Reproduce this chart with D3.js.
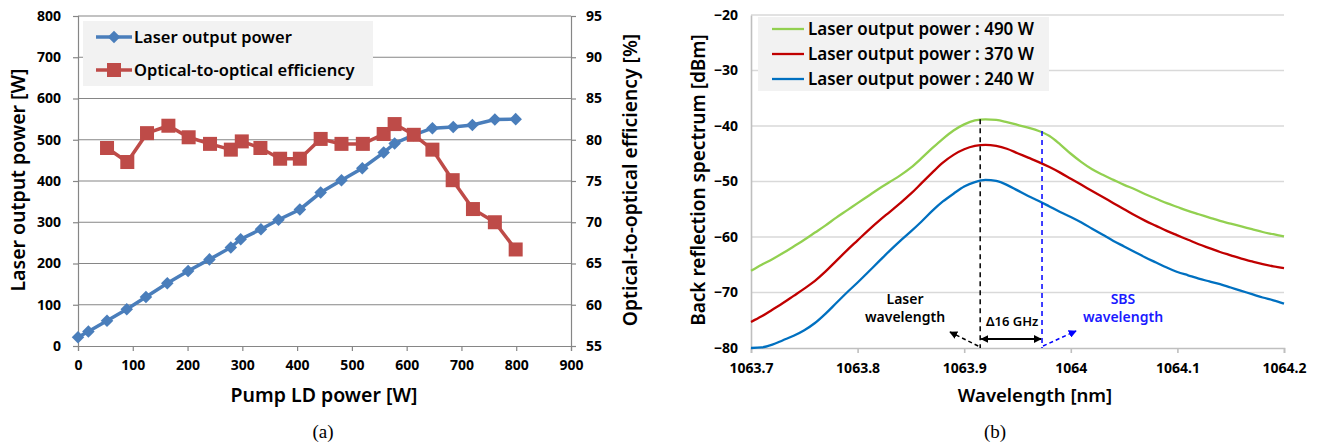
<!DOCTYPE html>
<html>
<head>
<meta charset="utf-8">
<script src="https://cdn.jsdelivr.net/npm/d3@7/dist/d3.min.js"></script>
<style>
  html, body { margin: 0; padding: 0; background: #fff; }
  svg { display: block; }
  text { font-family: "Noto Sans", "Open Sans", sans-serif; }
</style>
</head>
<body>
<svg id="fig" width="1319" height="447"></svg>
<script>
// ---------- (a) laser output power and optical-to-optical efficiency ----------
const pumpPower   = [0, 19, 53, 89, 124, 163, 201, 240, 279, 297, 334, 366, 405, 443, 481, 519, 558, 578, 612, 647, 685, 720, 761, 799];
const outputPower = [21, 35, 61, 89, 119, 152, 182, 210, 239, 259, 283, 306, 331, 372, 402, 431, 469, 491, 511, 528, 531, 536, 549, 550];

const effPump       = [53, 90, 126, 165, 202, 241, 279, 299, 333, 369, 405, 443, 481, 520, 558, 578, 613, 647, 684, 721, 761, 799];
const efficiencyPct = [79.0, 77.3, 80.8, 81.7, 80.3, 79.5, 78.8, 79.8, 79.0, 77.7, 77.7, 80.1, 79.5, 79.5, 80.7, 81.9, 80.6, 78.8, 75.1, 71.6, 70.0, 66.7];

const pumpTicks = [0, 100, 200, 300, 400, 500, 600, 700, 800, 900];
const powerTicks = [0, 100, 200, 300, 400, 500, 600, 700, 800];
const effTicks = [55, 60, 65, 70, 75, 80, 85, 90, 95];
const legendA = ["Laser output power", "Optical-to-optical efficiency"];

// ---------- (b) back reflection spectra ----------
const wavelength = [1063.70, 1063.71, 1063.72, 1063.73, 1063.74, 1063.75, 1063.76, 1063.77, 1063.78, 1063.79,
                    1063.80, 1063.81, 1063.82, 1063.83, 1063.84, 1063.85, 1063.86, 1063.87, 1063.88, 1063.89,
                    1063.90, 1063.91, 1063.92, 1063.93, 1063.94, 1063.95, 1063.96, 1063.97, 1063.98, 1063.99,
                    1064.00, 1064.01, 1064.02, 1064.03, 1064.04, 1064.05, 1064.06, 1064.07, 1064.08, 1064.09,
                    1064.10, 1064.11, 1064.12, 1064.13, 1064.14, 1064.15, 1064.16, 1064.17, 1064.18, 1064.19, 1064.20];
const spec490 = [-66.1, -65.0, -64.0, -62.9, -61.7, -60.5, -59.2, -57.9, -56.5, -55.2,
                 -53.9, -52.6, -51.3, -50.1, -48.9, -47.5, -45.8, -44.0, -42.3, -40.8,
                 -39.7, -39.0, -38.8, -38.9, -39.3, -39.8, -40.3, -40.9, -41.8, -43.3,
                 -45.0, -46.5, -47.8, -48.8, -49.7, -50.6, -51.4, -52.3, -53.1, -53.9,
                 -54.6, -55.3, -55.9, -56.5, -57.1, -57.6, -58.1, -58.6, -59.1, -59.5, -59.9];
const spec370 = [-75.3, -74.3, -73.1, -71.9, -70.6, -69.3, -67.9, -66.2, -64.3, -62.4,
                 -60.6, -58.8, -57.1, -55.5, -53.9, -52.2, -50.3, -48.4, -46.6, -45.2,
                 -44.2, -43.6, -43.4, -43.6, -44.1, -44.9, -45.7, -46.5, -47.4, -48.4,
                 -49.5, -50.6, -51.7, -52.8, -53.9, -55.0, -56.1, -57.1, -58.0, -58.9,
                 -59.7, -60.5, -61.3, -62.0, -62.7, -63.3, -63.9, -64.4, -64.9, -65.3, -65.6];
const spec240 = [-80.0, -79.9, -79.4, -78.6, -77.8, -76.8, -75.5, -73.8, -71.9, -70.0,
                 -68.2, -66.3, -64.4, -62.5, -60.7, -59.0, -57.2, -55.3, -53.6, -52.2,
                 -50.9, -50.1, -49.7, -49.9, -50.6, -51.6, -52.6, -53.5, -54.5, -55.5,
                 -56.4, -57.4, -58.5, -59.6, -60.7, -61.7, -62.7, -63.7, -64.6, -65.5,
                 -66.3, -66.9, -67.5, -68.0, -68.5, -69.1, -69.7, -70.3, -70.9, -71.4, -72.0];
const seriesB = ["Laser output power : 490 W", "Laser output power : 370 W", "Laser output power : 240 W"];
const colorsB = ["#92d050", "#c00000", "#0070c0"];
const wlTicks = [1063.7, 1063.8, 1063.9, 1064.0, 1064.1, 1064.2];
const wlTickLabels = ["1063.7", "1063.8", "1063.9", "1064", "1064.1", "1064.2"];
const dbTicks = [-80, -70, -60, -50, -40, -30, -20];
const laserWl = 1063.915;
const sbsWl = 1063.973;

const svg = d3.select("#fig");
const defs = svg.append("defs");
function arrowMarker(id, color) {
  defs.append("marker").attr("id", id).attr("viewBox", "0 0 10 10")
    .attr("refX", 9).attr("refY", 5).attr("markerWidth", 8).attr("markerHeight", 8)
    .attr("markerUnits", "userSpaceOnUse").attr("orient", "auto-start-reverse")
    .append("path").attr("d", "M0,0L10,5L0,10Z").attr("fill", color);
}
arrowMarker("arrK", "#000");
arrowMarker("arrB", "#0000ff");

// ===================== panel (a) =====================
{
  const x = d3.scaleLinear().domain([0, 900]).range([78, 571]);
  const y = d3.scaleLinear().domain([0, 800]).range([346, 16]);
  const y2 = d3.scaleLinear().domain([55, 95]).range([346, 16]);
  const g = svg.append("g");
  const gridC = "#868686";

  // horizontal grid lines
  g.selectAll("line.grid").data(powerTicks.slice(1)).join("line")
    .attr("x1", x(0)).attr("x2", x(900)).attr("y1", d => y(d)).attr("y2", d => y(d))
    .attr("stroke", gridC).attr("stroke-width", 1.2);

  // axes
  const axL = g.append("g").attr("transform", `translate(${x(0)},0)`)
    .call(d3.axisLeft(y).tickValues(powerTicks).tickSize(5).tickPadding(12));
  const axR = g.append("g").attr("transform", `translate(${x(900)},0)`)
    .call(d3.axisRight(y2).tickValues(effTicks).tickSize(5).tickPadding(10));
  const axB = g.append("g").attr("transform", `translate(0,${y(0)})`)
    .call(d3.axisBottom(x).tickValues(pumpTicks).tickSize(5).tickPadding(9));
  [axL, axR, axB].forEach(a => {
    a.select(".domain").attr("stroke", gridC).attr("stroke-width", 1.2);
    a.selectAll(".tick line").attr("stroke", gridC).attr("stroke-width", 1.2);
    a.selectAll(".tick text").attr("fill", "#000").style("font-size", "14px")
      .style("font-weight", "700").style("font-family", '"Noto Sans", sans-serif');
  });

  // legend
  g.append("rect").attr("x", 83).attr("y", 21).attr("width", 290).attr("height", 65).attr("fill", "#f2f2f2");

  // series
  const blue = "#4a7ebb", red = "#be4b48";
  const diamond = d3.symbol().type(d3.symbolDiamond2).size(100);
  const outPts = pumpPower.map((p, i) => [p, outputPower[i]]);
  const effPts = effPump.map((p, i) => [p, efficiencyPct[i]]);

  g.append("path").datum(outPts).attr("fill", "none").attr("stroke", blue).attr("stroke-width", 3.5)
    .attr("d", d3.line().x(d => x(d[0])).y(d => y(d[1])));
  g.selectAll("path.dia").data(outPts).join("path").attr("class", "dia")
    .attr("transform", d => `translate(${x(d[0])},${y(d[1])})`).attr("d", diamond).attr("fill", blue);

  g.append("path").datum(effPts).attr("fill", "none").attr("stroke", red).attr("stroke-width", 3.5)
    .attr("d", d3.line().x(d => x(d[0])).y(d => y2(d[1])));
  g.selectAll("rect.sq").data(effPts).join("rect").attr("class", "sq")
    .attr("x", d => x(d[0]) - 7).attr("y", d => y2(d[1]) - 7).attr("width", 14).attr("height", 14).attr("fill", red);

  // legend entries
  const legY = [37, 70];
  g.append("line").attr("x1", 96).attr("x2", 132).attr("y1", legY[0]).attr("y2", legY[0]).attr("stroke", blue).attr("stroke-width", 3.5);
  g.append("path").attr("transform", `translate(114,${legY[0]})`).attr("d", diamond).attr("fill", blue);
  g.append("line").attr("x1", 96).attr("x2", 132).attr("y1", legY[1]).attr("y2", legY[1]).attr("stroke", red).attr("stroke-width", 3.5);
  g.append("rect").attr("x", 107).attr("y", legY[1] - 7).attr("width", 14).attr("height", 14).attr("fill", red);
  legendA.forEach((t, i) => {
    g.append("text").attr("x", 134).attr("y", legY[i]).attr("dy", "0.36em")
      .style("font-size", "16.5px").style("font-weight", "600").text(t);
  });

  // titles
  g.append("text").attr("transform", "translate(25,180) rotate(-90)").attr("text-anchor", "middle")
    .style("font-size", "19.5px").style("font-weight", "600").text("Laser output power [W]");
  g.append("text").attr("transform", "translate(637,180) rotate(-90)").attr("text-anchor", "middle")
    .style("font-size", "19.3px").style("font-weight", "600").text("Optical-to-optical efficiency [%]");
  g.append("text").attr("x", 324).attr("y", 402).attr("text-anchor", "middle")
    .style("font-size", "19.5px").style("font-weight", "600").text("Pump LD power [W]");
  g.append("text").attr("x", 323).attr("y", 438).attr("text-anchor", "middle")
    .style("font-family", '"Liberation Serif", "Times New Roman", serif').style("font-size", "19px").text("(a)");
}

// ===================== panel (b) =====================
{
  const x = d3.scaleLinear().domain([1063.7, 1064.2]).range([751, 1284]);
  const y = d3.scaleLinear().domain([-80, -20]).range([348, 15]);
  const g = svg.append("g");

  g.selectAll("line.grid").data(dbTicks.slice(1)).join("line")
    .attr("x1", x(1063.7)).attr("x2", x(1064.2)).attr("y1", d => y(d)).attr("y2", d => y(d))
    .attr("stroke", "#d9d9d9").attr("stroke-width", 1.6);

  const axL = g.append("g").attr("transform", `translate(${x(1063.7)},0)`)
    .call(d3.axisLeft(y).tickValues(dbTicks).tickSize(0).tickPadding(13));
  const axB = g.append("g").attr("transform", `translate(0,${y(-80)})`)
    .call(d3.axisBottom(x).tickValues(wlTicks).tickFormat((d, i) => wlTickLabels[i]).tickSize(5).tickPadding(10));
  [axL, axB].forEach(a => {
    a.select(".domain").attr("stroke", "#bfbfbf").attr("stroke-width", 1.6);
    a.selectAll(".tick line").attr("stroke", "#bfbfbf").attr("stroke-width", 1.6);
    a.selectAll(".tick text").attr("fill", "#000").style("font-size", "14px")
      .style("font-weight", "700").style("font-family", '"Noto Sans", sans-serif');
  });

  // legend box
  g.append("rect").attr("x", 758).attr("y", 17).attr("width", 291).attr("height", 74).attr("fill", "#f2f2f2");

  const specs = [spec490, spec370, spec240];
  const line = d3.line().x(d => x(d[0])).y(d => y(d[1])).curve(d3.curveMonotoneX);
  specs.forEach((s, k) => {
    g.append("path").datum(wavelength.map((w, i) => [w, s[i]]))
      .attr("fill", "none").attr("stroke", colorsB[k]).attr("stroke-width", 2.3).attr("d", line);
  });

  const legY = [29, 54, 79];
  seriesB.forEach((t, k) => {
    g.append("line").attr("x1", 772).attr("x2", 804).attr("y1", legY[k]).attr("y2", legY[k])
      .attr("stroke", colorsB[k]).attr("stroke-width", 2.3);
    g.append("text").attr("x", 808).attr("y", legY[k]).attr("dy", "0.36em")
      .style("font-size", "17px").style("font-weight", "600").text(t);
  });

  // laser and SBS wavelength markers
  const peak = spec490[wavelength.indexOf(1063.92)];
  g.append("line").attr("x1", x(laserWl)).attr("x2", x(laserWl)).attr("y1", y(peak)).attr("y2", y(-80))
    .attr("stroke", "#000").attr("stroke-width", 1.5).attr("stroke-dasharray", "5,4");
  g.append("line").attr("x1", x(sbsWl)).attr("x2", x(sbsWl)).attr("y1", y(-40.9)).attr("y2", y(-80))
    .attr("stroke", "#0000ff").attr("stroke-width", 1.5).attr("stroke-dasharray", "5,4");

  // 16 GHz separation
  g.append("line").attr("x1", x(laserWl) + 1).attr("x2", x(sbsWl) - 1).attr("y1", 339).attr("y2", 339)
    .attr("stroke", "#000").attr("stroke-width", 1.8)
    .attr("marker-start", "url(#arrK)").attr("marker-end", "url(#arrK)");
  g.append("text").attr("x", (x(laserWl) + x(sbsWl)) / 2 + 1).attr("y", 326).attr("text-anchor", "middle")
    .style("font-size", "13px").style("font-weight", "600").text("Δ16 GHz");

  // pointer arrows to the labels
  g.append("line").attr("x1", x(laserWl) - 2).attr("y1", 346).attr("x2", 950).attr("y2", 332)
    .attr("stroke", "#000").attr("stroke-width", 1.5).attr("stroke-dasharray", "4,3").attr("marker-end", "url(#arrK)");
  g.append("line").attr("x1", x(sbsWl) + 1).attr("y1", 346).attr("x2", 1076).attr("y2", 331)
    .attr("stroke", "#0000ff").attr("stroke-width", 1.5).attr("stroke-dasharray", "4,3").attr("marker-end", "url(#arrB)");

  const lbl = (lines, cx, color) => lines.forEach((t, i) => {
    g.append("text").attr("x", cx).attr("y", 304 + i * 18).attr("text-anchor", "middle").attr("fill", color)
      .style("font-size", "14px").style("font-weight", "600").text(t);
  });
  lbl(["Laser", "wavelength"], 905, "#000");
  lbl(["SBS", "wavelength"], 1123, "#1a1aff");

  // titles
  g.append("text").attr("transform", "translate(705,180) rotate(-90)").attr("text-anchor", "middle")
    .style("font-size", "19px").style("font-weight", "600").text("Back reflection spectrum [dBm]");
  g.append("text").attr("x", 1035).attr("y", 402).attr("text-anchor", "middle")
    .style("font-size", "18.5px").style("font-weight", "600").text("Wavelength [nm]");
  g.append("text").attr("x", 995).attr("y", 438).attr("text-anchor", "middle")
    .style("font-family", '"Liberation Serif", "Times New Roman", serif').style("font-size", "19px").text("(b)");
}
</script>
</body>
</html>
